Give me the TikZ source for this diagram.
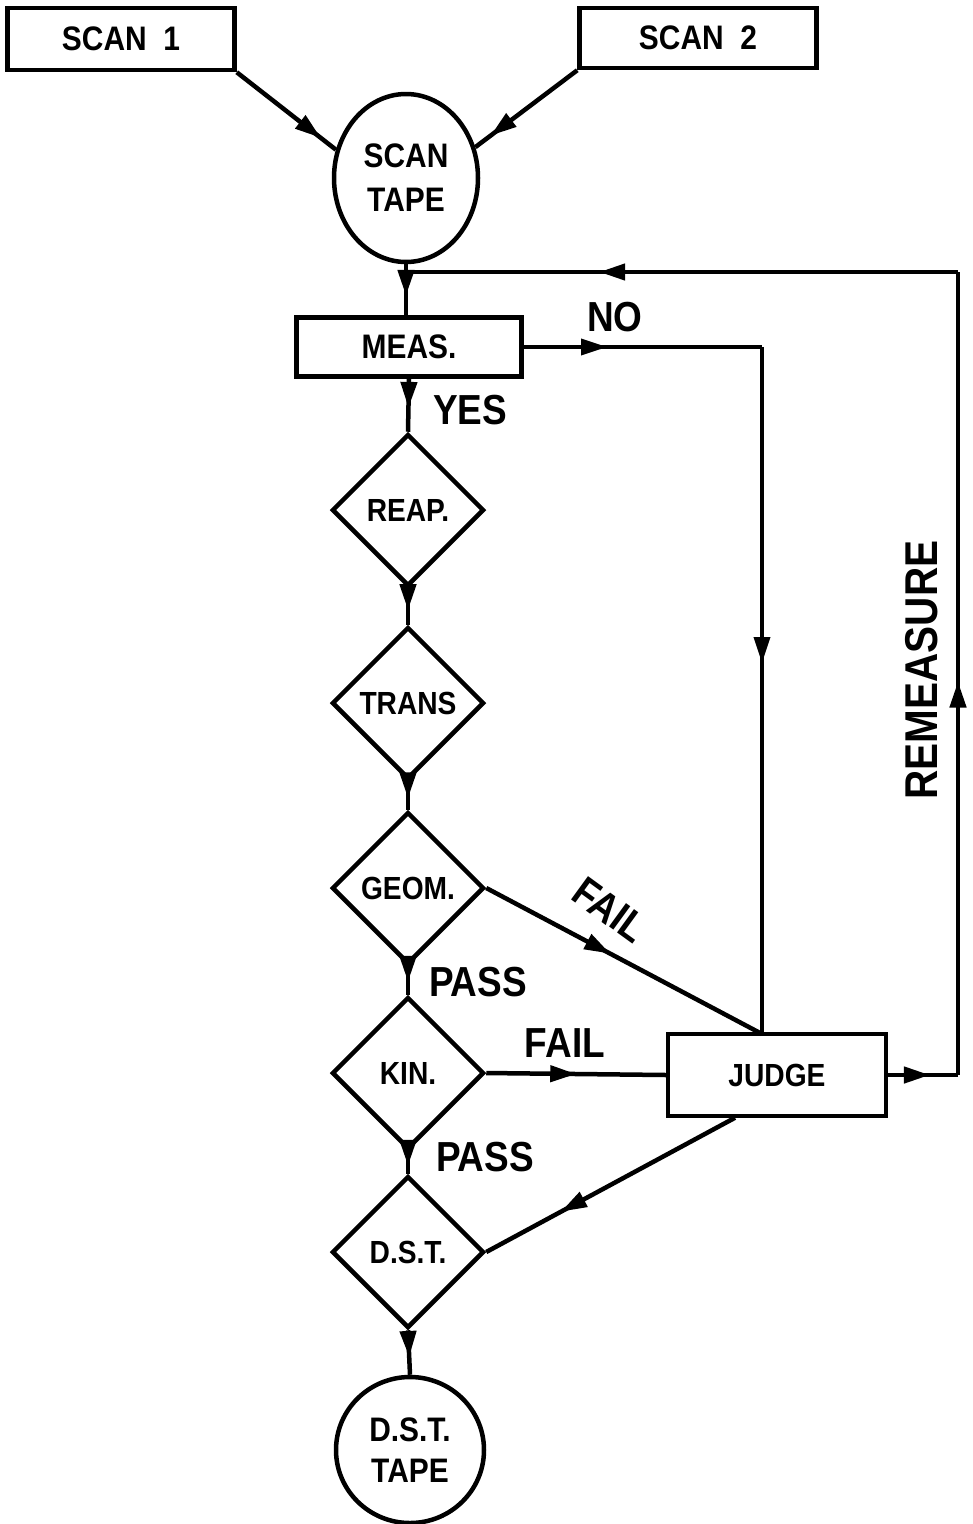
\documentclass[tikz,border=0pt]{standalone}
\usepackage{fontspec}
\setmainfont[FakeStretch=0.88]{Liberation Sans}
\usetikzlibrary{shapes.geometric,arrows.meta,decorations.markings}
\begin{document}
\begin{tikzpicture}[x=1pt,y=-1pt,line width=4.5pt,
  proc/.style={draw,rectangle,inner sep=0pt,font=\fontsize{34}{40}\selectfont\bfseries},
  dec/.style={draw,diamond,minimum width=152pt,minimum height=152pt,inner sep=0pt,font=\fontsize{32}{38}\selectfont\bfseries},
  term/.style={draw,ellipse,inner sep=0pt,align=center},
  lab/.style={font=\fontsize{42}{48}\selectfont\bfseries},
  mid/.style={postaction={decorate},decoration={markings,mark=at position #1 with {\arrow{Triangle[length=26pt,width=16pt]}}}}]
\useasboundingbox (0,0) rectangle (973,1524);
% nodes
\node[proc,minimum width=227pt,minimum height=62pt] (s1) at (121,39) {SCAN\ \ 1};
\node[proc,minimum width=237pt,minimum height=60pt] (s2) at (698,38) {SCAN\ \ 2};
\node[term,minimum width=144pt,minimum height=168pt,font=\fontsize{34}{44}\selectfont\bfseries] (tape) at (406,178) {SCAN\\TAPE};
\node[proc,minimum width=225pt,minimum height=59pt] (meas) at (409,347) {MEAS.};
\node[dec] (reap) at (408,510) {REAP.};
\node[dec] (trans) at (408,703) {TRANS};
\node[dec] (geom) at (408,888) {GEOM.};
\node[dec] (kin) at (408,1073) {KIN.};
\node[dec] (dst) at (408,1252) {D.S.T.};
\node[term,minimum width=148pt,minimum height=146pt,font=\fontsize{34}{41}\selectfont\bfseries] (dtape) at (410,1450) {D.S.T.\\TAPE};
\node[proc,line width=3.5pt,minimum width=218pt,minimum height=82pt,font=\fontsize{32}{38}\selectfont\bfseries] (judge) at (777,1075) {JUDGE};
% coordinates
\coordinate (nc) at (762,347);
\coordinate (jt) at (762,1034);
\coordinate (rb) at (958,1075);
\coordinate (rt) at (958,272);
\coordinate (jn) at (406,272);
% connectors
\draw[mid=0.85] (s1.south east) -- (tape.158);
\draw[mid=0.85] (s2.south west) -- (tape.24);
\draw[mid=0.62] (tape.south) -- (jn) -- (jn |- meas.north);
\draw[line width=3.5pt,mid=0.35] (meas.east) -- (nc);
\draw[line width=3.5pt,mid=0.46] (nc) -- (jt);
\draw[mid=0.55] (meas.south) -- (reap.north);
\draw[mid=0.6] (reap.south) -- (trans.north);
\draw[mid=0.6] (trans.south) -- (geom.north);
\draw[mid=0.55] (geom.south) -- (kin.north);
\draw[mid=0.65] (kin.south) -- (dst.north);
\draw[mid=0.6] (dst.south) -- (dtape.north);
\draw[mid=0.45] (geom.east) -- (jt);
\draw[mid=0.5] (kin.east) -- (judge.west);
\draw[mid=0.7] (judge.south) ++(-42,0) coordinate (jb) (jb) -- (dst.east);
\draw[mid=0.6] (judge.east) -- (rb);
\draw[mid=0.49] (rb) -- (rt);
\draw[mid=0.65] (rt) -- (jn);
% labels
\node[lab] (lno) at (615,317) {NO};
\node[lab] (lyes) at (470,410) {YES};
\node[lab] (lp1) at (478,982) {PASS};
\node[lab] (lp2) at (485,1157) {PASS};
\node[lab] (lf1) at (565,1043) {FAIL};
\node[lab,rotate=-36] (lf2) at (610,910) {FAIL};
\node[lab,rotate=90,font=\fontsize{46}{50}\selectfont\bfseries] (lrm) at (922,670) {REMEASURE};
\end{tikzpicture}
\end{document}
